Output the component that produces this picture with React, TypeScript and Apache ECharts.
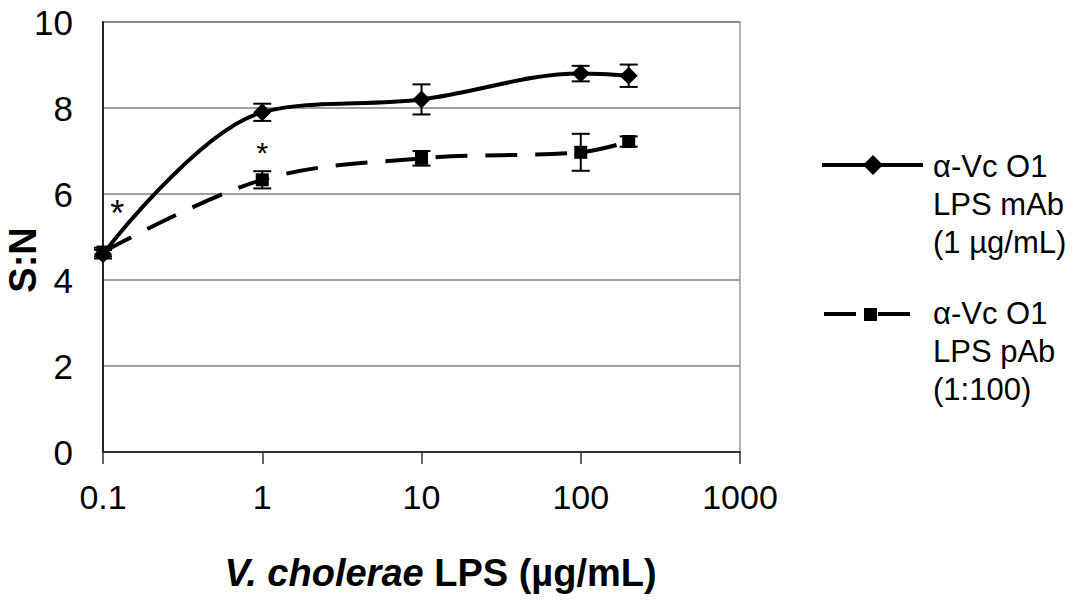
import React, { useEffect, useRef } from "react";
import * as echarts from "echarts";

const xValues = [0.1, 1, 10, 100, 200];
const mAbValues = [4.6, 7.9, 8.2, 8.8, 8.75];
const mAbErrors = [0.1, 0.2, 0.35, 0.18, 0.26];
const pAbValues = [4.65, 6.33, 6.83, 6.97, 7.22];
const pAbErrors = [0.1, 0.2, 0.17, 0.43, 0.12];
const xTickLabels = ["0.1", "1", "10", "100", "1000"];
const yTickLabels = ["0", "2", "4", "6", "8", "10"];
const starPoints = [
  [0.123, 5.74],
  [1, 7.15],
];
const mAbName = "α-Vc O1\nLPS mAb\n(1 µg/mL)";
const pAbName = "α-Vc O1\nLPS pAb\n(1:100)";

const FONT = "'Liberation Sans', Arial, Helvetica, sans-serif";

function errorSeries(values: number[], errors: number[], name: string) {
  return {
    type: "custom",
    name,
    z: 3,
    data: xValues.map((x, i) => [x, values[i] - errors[i], values[i] + errors[i]]),
    encode: { x: 0, y: [1, 2] },
    renderItem: (params: any, api: any) => {
      const x = api.value(0);
      const top = api.coord([x, api.value(2)]);
      const bot = api.coord([x, api.value(1)]);
      const hw = 9;
      const style = { stroke: "#000", lineWidth: 2 };
      return {
        type: "group",
        children: [
          { type: "line", shape: { x1: top[0], y1: top[1], x2: bot[0], y2: bot[1] }, style },
          { type: "line", shape: { x1: top[0] - hw, y1: top[1], x2: top[0] + hw, y2: top[1] }, style },
          { type: "line", shape: { x1: bot[0] - hw, y1: bot[1], x2: bot[0] + hw, y2: bot[1] }, style },
        ],
      };
    },
  };
}

export default function App() {
  const ref = useRef<HTMLDivElement>(null);
  useEffect(() => {
    if (!ref.current) return;
    const chart = echarts.init(ref.current, undefined, { renderer: "svg" });
    const option: any = {
      animation: false,
      backgroundColor: "#fff",
      textStyle: { fontFamily: FONT },
      grid: {
        left: 103,
        right: 341,
        top: 22,
        bottom: 151,
        containLabel: false,
        outerBoundsMode: "none",
        show: true,
        borderColor: "#999",
        borderWidth: 1.5,
        backgroundColor: "transparent",
      },
      xAxis: {
        type: "log",
        logBase: 10,
        min: 0.1,
        max: 1000,
        name: "{i|V. cholerae }{b|LPS (µg/mL)}",
        nameLocation: "middle",
        nameGap: 102,
        nameMoveOverlap: false,
        nameTextStyle: {
          padding: [0, 0, 0, 38],
          rich: {
            i: { fontFamily: FONT, fontSize: 38, fontWeight: "bold", fontStyle: "italic", color: "#000" },
            b: { fontFamily: FONT, fontSize: 38, fontWeight: "bold", color: "#000" },
          },
        },
        axisLine: { show: true, lineStyle: { color: "#333", width: 2 } },
        axisTick: { show: true, length: 12, lineStyle: { color: "#333", width: 1.5 } },
        axisLabel: {
          margin: 28,
          fontSize: 34,
          color: "#000",
          fontFamily: FONT,
          formatter: (v: number) => xTickLabels[Math.round(Math.log10(v)) + 1] ?? String(v),
        },
        splitLine: { show: false },
      },
      yAxis: {
        type: "value",
        min: 0,
        max: 10,
        interval: 2,
        name: "S:N",
        nameLocation: "middle",
        nameGap: 60,
        nameMoveOverlap: false,
        nameTextStyle: {
          fontFamily: FONT,
          fontSize: 38,
          lineHeight: 40,
          fontWeight: "bold",
          color: "#000",
          padding: [0, 46, 0, 0],
        },
        axisLine: { show: true, lineStyle: { color: "#222", width: 2 } },
        axisTick: { show: false },
        axisLabel: {
          margin: 30,
          fontSize: 35,
          color: "#000",
          fontFamily: FONT,
          formatter: (v: number) => yTickLabels[Math.round(v / 2)] ?? String(v),
        },
        splitLine: { show: true, lineStyle: { color: "#808080", width: 1.5 } },
      },
      series: [
        errorSeries(mAbValues, mAbErrors, "mAb error"),
        errorSeries(pAbValues, pAbErrors, "pAb error"),
        {
          type: "line",
          name: mAbName,
          z: 4,
          smooth: 0.35,
          data: xValues.map((x, i) => [x, mAbValues[i]]),
          symbol: "diamond",
          symbolSize: 18,
          lineStyle: { color: "#000", width: 4 },
          itemStyle: { color: "#000" },
        },
        {
          type: "line",
          name: pAbName,
          z: 4,
          smooth: 0.35,
          data: xValues.map((x, i) => [x, pAbValues[i]]),
          symbol: "rect",
          symbolSize: 13,
          lineStyle: { color: "#000", width: 4, type: [32, 18] },
          itemStyle: { color: "#000" },
        },
        {
          type: "scatter",
          name: "significance",
          z: 5,
          symbolSize: 0,
          itemStyle: { color: "#000", opacity: 1 },
          data: [
            { value: starPoints[0], label: { fontSize: 36 } },
            { value: starPoints[1], label: { fontSize: 30 } },
          ],
          label: {
            show: true,
            position: "inside",
            formatter: "*",
            color: "#000",
            textBorderWidth: 0,
            fontFamily: FONT,
            offset: [0, 8],
          },
        },
      ],
      graphic: [
        {
          type: "polyline",
          shape: { points: [[822, 165], [923, 165]] },
          style: { stroke: "#000", lineWidth: 4, fill: null },
        },
        {
          type: "polygon",
          shape: { points: [[873, 155], [883, 165], [873, 175], [863, 165]] },
          style: { fill: "#000" },
        },
        {
          type: "text",
          x: 933,
          y: 147,
          style: { text: mAbName, fontFamily: FONT, fontSize: 31, lineHeight: 38, fill: "#000", verticalAlign: "top" },
        },
        {
          type: "polyline",
          shape: { points: [[824, 314], [910, 314]] },
          style: { stroke: "#000", lineWidth: 4, fill: null, lineDash: [32, 22] },
        },
        {
          type: "rect",
          shape: { x: 864, y: 308, width: 13, height: 13 },
          style: { fill: "#000" },
        },
        {
          type: "text",
          x: 933,
          y: 294,
          style: { text: pAbName, fontFamily: FONT, fontSize: 31, lineHeight: 38, fill: "#000", verticalAlign: "top" },
        },
      ],
    };
    chart.setOption(option);
    return () => chart.dispose();
  }, []);
  return (
    <div
      ref={ref}
      style={{ position: "fixed", left: 0, top: 0, width: 1081, height: 603, background: "#fff" }}
    />
  );
}
